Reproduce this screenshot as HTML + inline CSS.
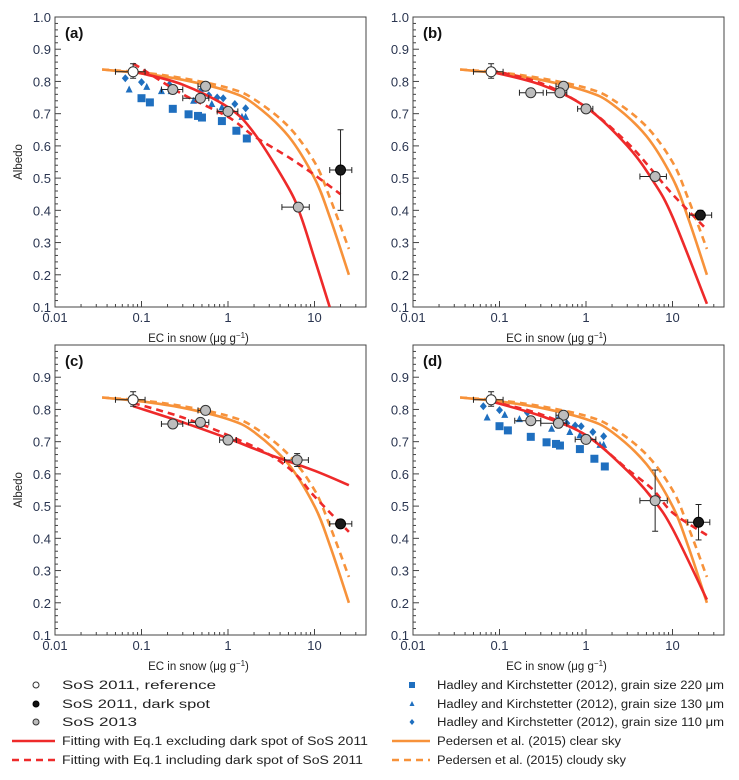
<!DOCTYPE html>
<html><head><meta charset="utf-8">
<style>
html,body{margin:0;padding:0;background:#fff;}
svg{display:block;font-family:"Liberation Sans",Arial,sans-serif;}
</style></head>
<body>
<svg id="chart" width="739" height="780" viewBox="0 0 739 780" xmlns="http://www.w3.org/2000/svg"></svg>
<script>
// ---- data ----
const xTicks = [0.01, 0.1, 1, 10];
const xTickLabels = ["0.01", "0.1", "1", "10"];
const yTicks = [0.1,0.2,0.3,0.4,0.5,0.6,0.7,0.8,0.9,1.0];
const clearX = [0.035,0.1,0.3,1,2,5,10,15,25];
const clearY = [0.837,0.825,0.805,0.77,0.73,0.63,0.50,0.38,0.20];
const cloudyX = [0.035,0.1,0.3,1,2,5,10,15,25];
const cloudyY = [0.837,0.828,0.81,0.78,0.745,0.66,0.55,0.44,0.28];
const fitExclA_X = [0.08,0.1,0.3,1,2,5,7,10,15];
const fitExclA_Y = [0.83,0.825,0.79,0.72,0.64,0.47,0.38,0.25,0.1];
const fitInclA_X = [0.08,0.1,0.3,1,2,5,10,20];
const fitInclA_Y = [0.855,0.84,0.76,0.69,0.63,0.565,0.51,0.45];
const fitExclB_X = [0.08,0.3,1,3,6,10,25];
const fitExclB_Y = [0.83,0.79,0.72,0.60,0.49,0.38,0.11];
const fitInclB_X = [0.08,0.3,1,3,6,10,25];
const fitInclB_Y = [0.835,0.795,0.72,0.61,0.52,0.45,0.34];
const fitExclC_X = [0.08,0.3,1,3,10,25];
const fitExclC_Y = [0.81,0.76,0.71,0.66,0.61,0.565];
const fitInclC_X = [0.08,0.3,1,3,6,10,25];
const fitInclC_Y = [0.82,0.775,0.72,0.66,0.60,0.53,0.42];
const fitExclD_X = [0.08,0.3,1,3,6,10,25];
const fitExclD_Y = [0.825,0.78,0.72,0.61,0.52,0.43,0.21];
const fitInclD_X = [0.08,0.3,1,3,6,10,25];
const fitInclD_Y = [0.825,0.785,0.72,0.615,0.55,0.48,0.41];
// reference point: x, y, xlo, xhi, ylo, yhi
const refPt = [0.08,0.83,0.05,0.11,0.81,0.855];
const sos13X = [[0.23,0.55,0.48,1.0,6.5],[0.23,0.55,0.5,1.0,6.3],[0.23,0.55,0.48,1.0,6.3],[0.23,0.55,0.48,1.0,6.3]];
const sos13Y = [[0.775,0.785,0.748,0.707,0.41],[0.765,0.785,0.765,0.715,0.505],[0.755,0.797,0.76,0.705,0.643],[0.765,0.782,0.757,0.707,0.517]];
const sos13Xlo = [[0.17,0.45,0.3,0.75,4.2],[0.17,0.45,0.35,0.8,4.2],[0.17,0.45,0.35,0.8,4.5],[0.15,0.45,0.3,0.75,4.2]];
const sos13Xhi = [[0.3,0.6,0.6,1.3,8.7],[0.32,0.62,0.6,1.2,8.5],[0.3,0.6,0.6,1.25,8.5],[0.3,0.6,0.6,1.3,8.7]];
const sos13Yerr = [[0,0,0,0,0],[0,0,0,0,0],[0,0,0,0,0.02],[0,0,0,0,0.095]];
const darkX = [20,21,20,20];
const darkY = [0.525,0.385,0.445,0.45];
const darkYlo = [0.40,0.37,0.435,0.395];
const darkYhi = [0.65,0.40,0.455,0.505];
const hkSqX = [0.1,0.125,0.23,0.35,0.45,0.5,0.85,1.25,1.65];
const hkSqY = [0.748,0.735,0.715,0.698,0.693,0.688,0.677,0.647,0.623];
const hkTriX = [0.072,0.115,0.17,0.22,0.4,0.65,0.85,1.45,1.6];
const hkTriY = [0.775,0.783,0.77,0.77,0.74,0.73,0.72,0.69,0.69];
const hkDiaX = [0.065,0.1,0.21,0.5,0.6,0.75,0.88,1.2,1.6];
const hkDiaY = [0.81,0.798,0.79,0.775,0.757,0.75,0.748,0.73,0.717];

const NS = "http://www.w3.org/2000/svg";
const svg = document.getElementById('chart');
function mk(tag, attrs, parent){const e=document.createElementNS(NS,tag);for(const k in attrs)e.setAttribute(k,attrs[k]);(parent||svg).appendChild(e);return e;}
function smoothPath(pts){
  let d='M'+pts[0][0].toFixed(1)+','+pts[0][1].toFixed(1);
  for(let i=0;i<pts.length-1;i++){
    const p0=pts[i-1]||pts[i],p1=pts[i],p2=pts[i+1],p3=pts[i+2]||p2;
    const c1=[p1[0]+(p2[0]-p0[0])/6,p1[1]+(p2[1]-p0[1])/6];
    const c2=[p2[0]-(p3[0]-p1[0])/6,p2[1]-(p3[1]-p1[1])/6];
    d+=`C${c1[0].toFixed(1)},${c1[1].toFixed(1)} ${c2[0].toFixed(1)},${c2[1].toFixed(1)} ${p2[0].toFixed(1)},${p2[1].toFixed(1)}`;
  }
  return d;
}

const panels = [
 {L:55,T:17,label:"(a)",fe:[fitExclA_X,fitExclA_Y],fi:[fitInclA_X,fitInclA_Y],hk:true,ylab:true,top:true},
 {L:413,T:17,label:"(b)",fe:[fitExclB_X,fitExclB_Y],fi:[fitInclB_X,fitInclB_Y],hk:false,ylab:false,top:true},
 {L:55,T:345,label:"(c)",fe:[fitExclC_X,fitExclC_Y],fi:[fitInclC_X,fitInclC_Y],hk:false,ylab:true,top:false},
 {L:413,T:345,label:"(d)",fe:[fitExclD_X,fitExclD_Y],fi:[fitInclD_X,fitInclD_Y],hk:true,ylab:false,top:false}
];
const DEC = 86.5, W = 311, H = 290;

panels.forEach((p,pi)=>{
  const g = mk('g',{});
  
  
  const sx = v => p.L + (Math.log10(v)+2)*DEC;
  const sy = v => p.T + (1.0-v)/0.9*H;
  const clipId='clip'+pi;
  const cp=mk('clipPath',{id:clipId},g); mk('rect',{x:p.L,y:p.T,width:W,height:H},cp);
  const frame = mk('rect',{x:p.L,y:p.T,width:W,height:H,fill:'none',stroke:'#444','stroke-width':1},g);
  
  
  for(let i=0;i<=45;i++){const v=0.1+i*0.02;const y=sy(v);const major=(i%5===0);
    mk('line',{x1:p.L,x2:p.L+(major?6:3),y1:y,y2:y,stroke:'#444','stroke-width':1},g);}
  yTicks.forEach(v=>{ if(!p.top && v>=0.99) return;
    const t=mk('text',{x:p.L-4,y:sy(v)+5,'text-anchor':'end','font-size':13,fill:'#2a3550'},g);
    t.textContent=v.toFixed(1);
    
    });
  for(let d=-2;d<=1;d++){for(let m=1;m<=9;m++){const v=m*Math.pow(10,d);const x=sx(v);if(x>p.L+W)continue;
    mk('line',{x1:x,x2:x,y1:p.T+H,y2:p.T+H-(m===1?6:3),stroke:'#444','stroke-width':1},g);}}
  xTicks.forEach((v,i)=>{const t=mk('text',{x:sx(v),y:p.T+H+15,'text-anchor':'middle','font-size':13,fill:'#2a3550'},g);
    t.textContent=xTickLabels[i];
    
    });
  const xt=mk('text',{x:p.L+W/2-12,y:p.T+H+35,'text-anchor':'middle','font-size':11.5,fill:'#222'},g);
  xt.innerHTML='EC in snow (μg g<tspan dy="-4" font-size="8">−1</tspan><tspan dy="4">)</tspan>';
  
  
  if(p.ylab){const yt=mk('text',{x:0,y:0,transform:`translate(22,${p.T+H/2}) rotate(-90)`,'text-anchor':'middle','font-size':11.5,fill:'#222'},g);
    yt.textContent='Albedo';
    
    }
  const lab=mk('text',{x:p.L+10,y:p.T+21,'font-size':15,'font-weight':'bold',fill:'#111'},g);
  lab.textContent=p.label;
  
  
  const data=mk('g',{'clip-path':`url(#${clipId})`},g);
  if(p.hk){
    hkSqX.forEach((v,i)=>{const r=mk('rect',{x:sx(v)-4,y:sy(hkSqY[i])-4,width:8,height:8,fill:'#1f6fbf'},data);
      
      });
    hkTriX.forEach((v,i)=>{const x=sx(v),y=sy(hkTriY[i]);const r=mk('polygon',{points:`${x},${y-4} ${x-3.5},${y+3} ${x+3.5},${y+3}`,fill:'#1f6fbf'},data);
      
      });
    hkDiaX.forEach((v,i)=>{const x=sx(v),y=sy(hkDiaY[i]);const r=mk('polygon',{points:`${x},${y-4} ${x+3.5},${y} ${x},${y+4} ${x-3.5},${y}`,fill:'#1f6fbf'},data);
      
      });
  }
  const line=(X,Y,col,dash,name)=>{const d=smoothPath(X.map((v,i)=>[sx(v),sy(Y[i])]));
    const pa=mk('path',{d,fill:'none',stroke:col,'stroke-width':2.6,'stroke-dasharray':dash||'none','stroke-linejoin':'round'},data);
    
    };
  line(clearX,clearY,'#f7923a',null,'pedersen-clear-sky-line');
  line(cloudyX,cloudyY,'#f7923a','7,5','pedersen-cloudy-sky-line');
  line(p.fe[0],p.fe[1],'#ee2a2a',null,'fit-excluding-dark-line');
  line(p.fi[0],p.fi[1],'#ee2a2a','7,5','fit-including-dark-line');
  const err=(x,y,xlo,xhi,ylo,yhi)=>{
    if(xlo&&xhi){mk('line',{x1:sx(xlo),x2:sx(xhi),y1:sy(y),y2:sy(y),stroke:'#222','stroke-width':1},data);
      [xlo,xhi].forEach(v=>mk('line',{x1:sx(v),x2:sx(v),y1:sy(y)-3,y2:sy(y)+3,stroke:'#222'},data));}
    if(ylo!==yhi){mk('line',{x1:sx(x),x2:sx(x),y1:sy(ylo),y2:sy(yhi),stroke:'#222','stroke-width':1},data);
      [ylo,yhi].forEach(v=>mk('line',{x1:sx(x)-3,x2:sx(x)+3,y1:sy(v),y2:sy(v),stroke:'#222'},data));}
  };
  sos13X[pi].forEach((v,i)=>{const y=sos13Y[pi][i],e=sos13Yerr[pi][i];
    err(v,y,sos13Xlo[pi][i],sos13Xhi[pi][i],y-e,y+e);
    const c=mk('circle',{cx:sx(v),cy:sy(y),r:5,fill:'#bdbdbd',stroke:'#333','stroke-width':1},data);
    
    });
  err(refPt[0],refPt[1],refPt[2],refPt[3],refPt[4],refPt[5]);
  const rc=mk('circle',{cx:sx(refPt[0]),cy:sy(refPt[1]),r:5,fill:'#fff',stroke:'#333','stroke-width':1},data);
  
  
  err(darkX[pi],darkY[pi],darkX[pi]*0.75,darkX[pi]*1.35,darkYlo[pi],darkYhi[pi]);
  const dc=mk('circle',{cx:sx(darkX[pi]),cy:sy(darkY[pi]),r:5,fill:'#1a1a1a',stroke:'#000','stroke-width':1},data);
  
  
});

// legend
const lg=mk('g',{});


const rows=[685,704,722,741,760];
const leftTxt=["SoS 2011, reference","SoS 2011, dark spot","SoS 2013","Fitting with Eq.1 excluding dark spot of SoS 2011","Fitting with Eq.1 including dark spot of SoS 2011"];
const leftLen=[154,148,75,306,301];
const rightTxt=["Hadley and Kirchstetter (2012), grain size 220 μm","Hadley and Kirchstetter (2012), grain size 130 μm","Hadley and Kirchstetter (2012), grain size 110 μm","Pedersen et al. (2015) clear sky","Pedersen et al. (2015) cloudy sky"];
const rightLen=[287,287,287,184,189];
rows.forEach((y,i)=>{
  const t=mk('text',{x:62,y:y+4,'font-size':11.5,fill:'#222',textLength:leftLen[i],lengthAdjust:'spacingAndGlyphs'},lg);
  t.textContent=leftTxt[i];
  
  
  const t2=mk('text',{x:437,y:y+4,'font-size':11.5,fill:'#222',textLength:rightLen[i],lengthAdjust:'spacingAndGlyphs'},lg);
  t2.textContent=rightTxt[i];
  
  
});
mk('circle',{cx:36,cy:rows[0],r:3,fill:'#fff',stroke:'#333'},lg);
mk('circle',{cx:36,cy:rows[1],r:3,fill:'#111',stroke:'#000'},lg);
mk('circle',{cx:36,cy:rows[2],r:3,fill:'#bbb',stroke:'#333'},lg);
mk('line',{x1:12,x2:55,y1:rows[3],y2:rows[3],stroke:'#ee2a2a','stroke-width':2.6},lg);
mk('line',{x1:12,x2:55,y1:rows[4],y2:rows[4],stroke:'#ee2a2a','stroke-width':2.6,'stroke-dasharray':'7,5'},lg);
mk('rect',{x:409,y:rows[0]-3,width:6,height:6,fill:'#1f6fbf'},lg);
mk('polygon',{points:`412,${rows[1]-3} 409.5,${rows[1]+2} 414.5,${rows[1]+2}`,fill:'#1f6fbf'},lg);
mk('polygon',{points:`412,${rows[2]-3} 414.5,${rows[2]} 412,${rows[2]+3} 409.5,${rows[2]}`,fill:'#1f6fbf'},lg);
mk('line',{x1:392,x2:430,y1:rows[3],y2:rows[3],stroke:'#f7923a','stroke-width':2.6},lg);
mk('line',{x1:392,x2:430,y1:rows[4],y2:rows[4],stroke:'#f7923a','stroke-width':2.6,'stroke-dasharray':'7,5'},lg);
</script>
</body></html>
